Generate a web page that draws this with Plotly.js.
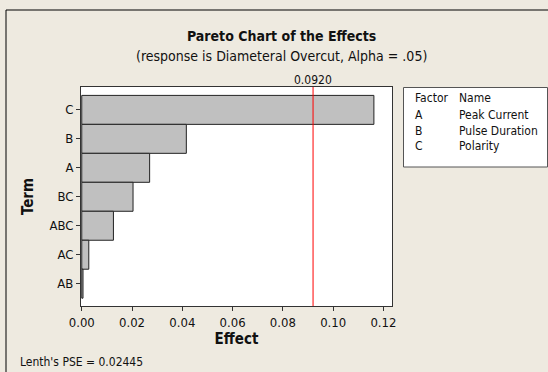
<!DOCTYPE html>
<html>
<head>
<meta charset="utf-8">
<script src="https://cdn.plot.ly/plotly-3.0.1.min.js"></script>
<style>
html,body{margin:0;padding:0;background:#EEEAE0;}
#chart{width:548px;height:372px;}
</style>
</head>
<body>
<div id="chart"></div>
<script>
// Data
var terms = ["C", "B", "A", "BC", "ABC", "AC", "AB"];
var effects = [0.1162, 0.0416, 0.0270, 0.0204, 0.0126, 0.0028, 0.0005];
var criticalValue = 0.0920;
var factorCodes = ["A", "B", "C"];
var factorNames = ["Peak Current", "Pulse Duration", "Polarity"];
var xTicks = [0, 0.02, 0.04, 0.06, 0.08, 0.10, 0.12];
var xTickLabels = ["0.00", "0.02", "0.04", "0.06", "0.08", "0.10", "0.12"];
var lenthPSE = "0.02445";

var FONT = "'DejaVu Sans Condensed', 'DejaVu Sans', sans-serif";
var TXT = "#111";

// plot area in pixels: x 81..392, y 87..306
var L = 81, R = 392, T = 87, B = 306, W = 548, H = 372;
function px(x){ return (x - L) / (R - L); }
function py(y){ return (B - y) / (B - T); }

var trace = {
  type: "bar",
  orientation: "h",
  y: terms,
  x: effects,
  marker: {color: "#C0C0C0", line: {color: "#222", width: 1}},
  hoverinfo: "x+y"
};

var annotations = [
  {xref: "paper", yref: "paper", x: px(281), y: py(36),
   text: "<b>Pareto Chart of the Effects</b>",
   showarrow: false, xanchor: "center", yanchor: "middle", font: {family: FONT, size: 14, color: TXT}},
  {xref: "paper", yref: "paper", x: px(281), y: py(56),
   text: "(response is Diameteral Overcut, Alpha = .05)",
   showarrow: false, xanchor: "center", yanchor: "middle", font: {family: FONT, size: 14, color: TXT}},
  {xref: "x", yref: "paper", x: criticalValue, y: py(80), text: criticalValue.toFixed(4),
   showarrow: false, xanchor: "center", yanchor: "middle", font: {family: FONT, size: 12, color: TXT}},
  {xref: "paper", yref: "paper", x: px(18), y: py(362), text: "Lenth's PSE = " + lenthPSE,
   showarrow: false, xanchor: "left", yanchor: "middle", font: {family: FONT, size: 12, color: TXT}},
  {xref: "paper", yref: "paper", x: px(413), y: py(98), text: "Factor",
   showarrow: false, xanchor: "left", yanchor: "middle", font: {family: FONT, size: 12, color: TXT}},
  {xref: "paper", yref: "paper", x: px(457), y: py(98), text: "Name",
   showarrow: false, xanchor: "left", yanchor: "middle", font: {family: FONT, size: 12, color: TXT}}
];
for (var i = 0; i < factorCodes.length; i++) {
  var yy = py(115 + i * 15.5);
  annotations.push({xref: "paper", yref: "paper", x: px(413), y: yy, text: factorCodes[i],
    showarrow: false, xanchor: "left", yanchor: "middle", font: {family: FONT, size: 12, color: TXT}});
  annotations.push({xref: "paper", yref: "paper", x: px(457), y: yy, text: factorNames[i],
    showarrow: false, xanchor: "left", yanchor: "middle", font: {family: FONT, size: 12, color: TXT}});
}

var shapes = [
  // outer frame
  {type: "rect", xref: "paper", yref: "paper", x0: px(6), x1: px(600), y0: py(420), y1: py(10),
   line: {color: "#000", width: 1}, fillcolor: "rgba(0,0,0,0)", layer: "below"},
  // legend box
  {type: "rect", xref: "paper", yref: "paper", x0: px(403.5), x1: px(547.5), y0: py(167), y1: py(87.5),
   line: {color: "#555", width: 1}, fillcolor: "#FFFFFF"},
  // critical line
  {type: "line", xref: "x", yref: "paper", x0: criticalValue, x1: criticalValue, y0: 0, y1: 1,
   line: {color: "#FF0000", width: 1}}
];

var layout = {
  width: W, height: H,
  paper_bgcolor: "#EEEAE0",
  plot_bgcolor: "#FFFFFF",
  margin: {l: L, r: W - R, t: T, b: H - B, pad: 0},
  showlegend: false,
  bargap: 0,
  xaxis: {
    range: [-0.0003, 0.1234],
    tickmode: "array", tickvals: xTicks, ticktext: xTickLabels,
    ticks: "outside", ticklen: 4, tickcolor: "#333",
    showgrid: false, zeroline: false,
    showline: true, linecolor: "#333", linewidth: 1, mirror: true,
    tickfont: {family: FONT, size: 13, color: TXT},
    title: {text: "<b>Effect</b>", font: {family: FONT, size: 15, color: TXT}, standoff: 4}
  },
  yaxis: {
    type: "category",
    range: [6.77, -0.79],
    ticks: "outside", ticklen: 4, tickcolor: "#333",
    showgrid: false, zeroline: false,
    showline: true, linecolor: "#333", linewidth: 1, mirror: true,
    tickfont: {family: FONT, size: 13, color: TXT},
    title: {text: "<b>Term</b>", font: {family: FONT, size: 15, color: TXT}, standoff: 12}
  },
  annotations: annotations,
  shapes: shapes
};

Plotly.newPlot("chart", [trace], layout, {displayModeBar: false, staticPlot: true});
</script>
</body>
</html>
